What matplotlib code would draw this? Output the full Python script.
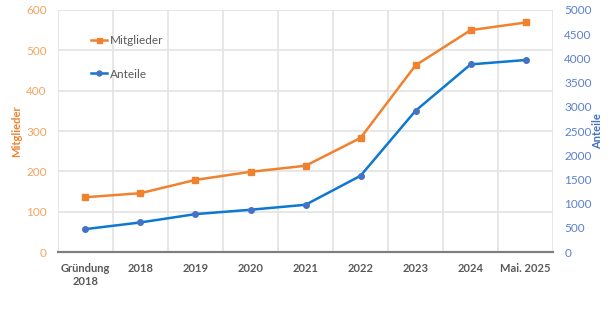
import matplotlib.pyplot as plt
from matplotlib.ticker import FixedLocator

plt.rcParams['font.family'] = ['Lato', 'DejaVu Sans']

kategorien = ['Gründung\n2018', '2018', '2019', '2020', '2021', '2022', '2023', '2024', 'Mai. 2025']
mitglieder = [136, 146, 179, 199, 214, 283, 463, 550, 569]
anteile = [475, 613, 785, 875, 978, 1577, 2920, 3877, 3967]

orange = '#F0822F'
orange_txt = '#F4A460'
blau = '#0E78D0'
blau_mk = '#4472C4'
blau_txt = '#5B7FD0'
grau = '#595959'
gitter = '#E3E3E3'

fig = plt.figure(figsize=(6.16, 3.22), dpi=100)
ax = fig.add_axes([0.094, 0.217, 0.804, 0.752])
ax2 = ax.twinx()

x = list(range(len(kategorien)))
l1, = ax.plot(x, mitglieder, color=orange, lw=1.8, marker='s', ms=4, label='Mitglieder', zorder=3)
l2, = ax2.plot(x, anteile, color=blau, lw=1.8, marker='o', ms=4, mfc=blau_mk, mec=blau_mk, label='Anteile', zorder=3)

ax.set_xlim(-0.5, len(kategorien) - 0.5)
ax.set_ylim(0, 600)
ax2.set_ylim(0, 5000)
ax.set_yticks(range(0, 601, 100))
ax2.set_yticks(range(0, 5001, 500))
ax.set_xticks(x)
ax.set_xticklabels(kategorien, fontsize=8, fontweight='bold', color=grau)
ax.xaxis.set_minor_locator(FixedLocator([i + 0.5 for i in range(-1, len(kategorien))]))

# Gitter
ax.grid(True, axis='y', color=gitter, lw=1.2)
ax.grid(True, axis='x', which='minor', color=gitter, lw=1.2)
ax.set_axisbelow(True)

for a in (ax, ax2):
    for s in ['top', 'left', 'right']:
        a.spines[s].set_visible(False)
    a.spines['bottom'].set_color('#7F7F7F')
    a.spines['bottom'].set_linewidth(1.5)
    a.tick_params(length=0, which='both')

ax.tick_params(axis='y', colors=orange_txt, labelsize=8.5, pad=8)
ax.tick_params(axis='x', pad=8)
ax2.tick_params(axis='y', colors=blau_txt, labelsize=8.5, pad=8)

ax.set_ylabel('Mitglieder', color=orange, fontsize=8, fontweight='bold', labelpad=3)
ax2.set_ylabel('Anteile', color=blau_mk, fontsize=8, fontweight='bold', labelpad=0)

leg = ax.legend(handles=[l1, l2], loc='upper left', bbox_to_anchor=(0.045, 0.94), frameon=False,
                fontsize=8.5, labelspacing=1.9, handlelength=1.4, handletextpad=0.2, markerscale=0.9)
for t in leg.get_texts():
    t.set_color(grau)

plt.savefig('out.png', dpi=100)
